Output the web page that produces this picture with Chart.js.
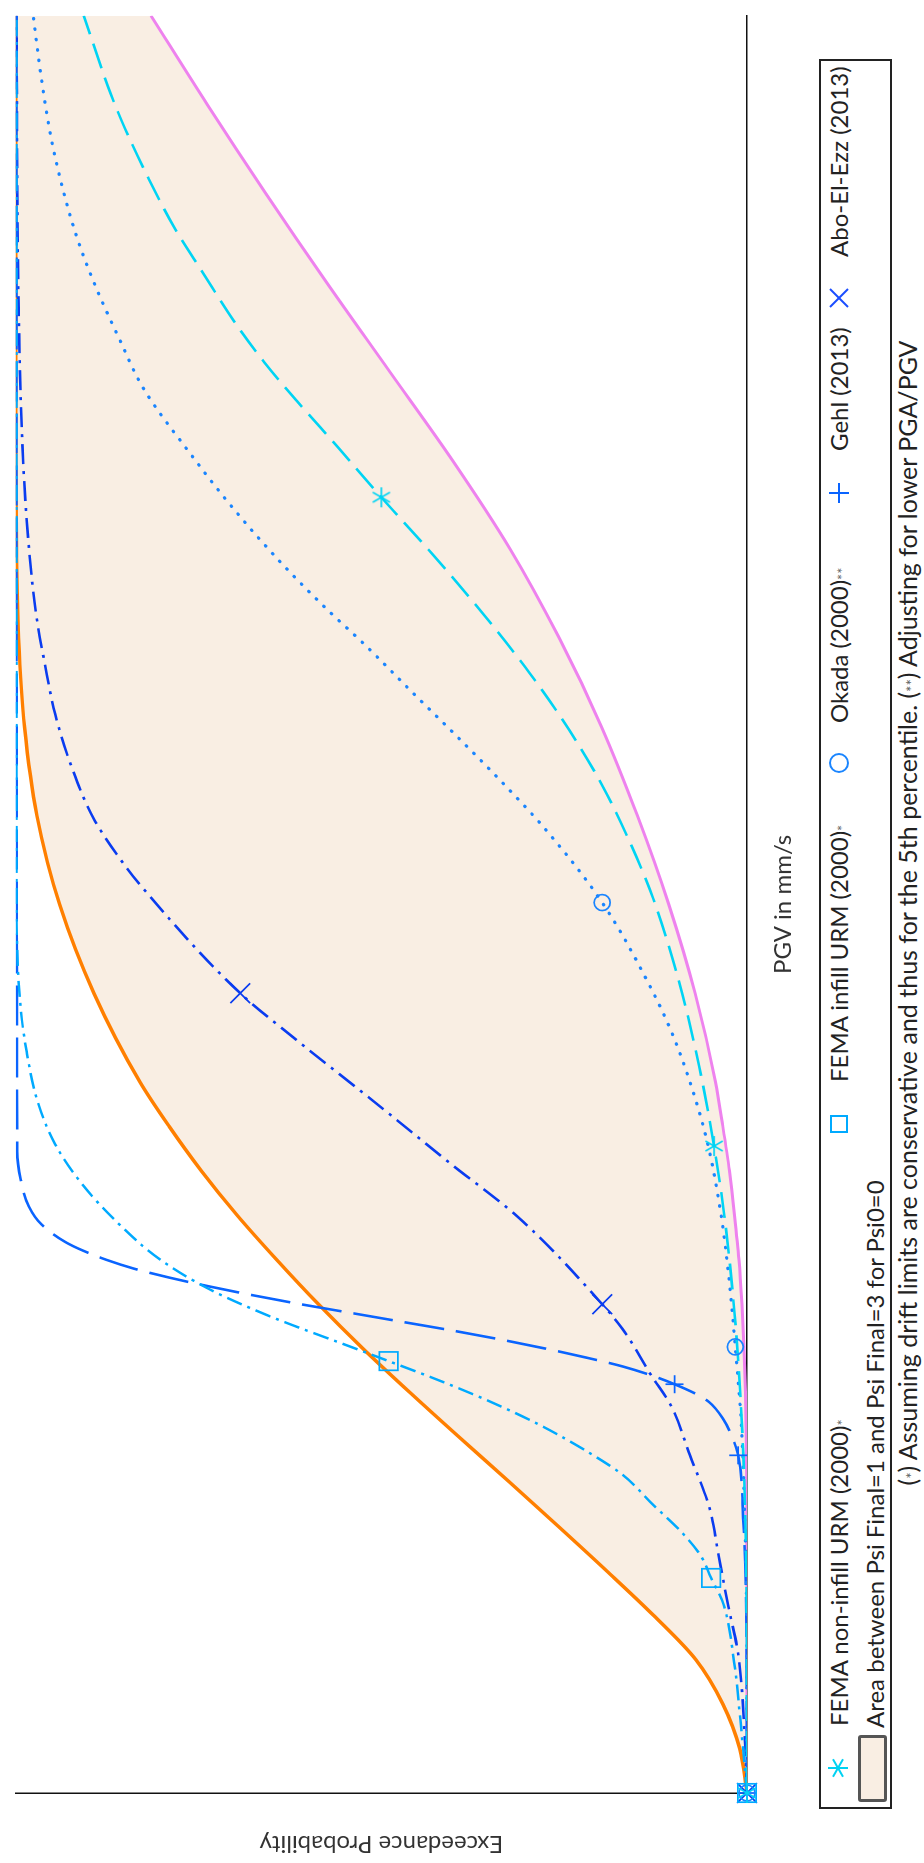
<!DOCTYPE html>
<html>
<head>
<meta charset="UTF-8">
<title>Exceedance Probability vs PGV</title>
<script src="https://cdn.jsdelivr.net/npm/chart.js"></script>
<style>
    html, body {
        margin: 0;
        padding: 0;
        background: #fff;
        overflow: hidden;
    }
    body {
        width: 924px;
        height: 1863px;
        position: relative;
        font-family: Lato, "Open Sans", sans-serif;
        color: #222;
    }
    /* the figure is laid out landscape and turned a quarter to the left */
    #figure {
        position: absolute;
        left: 0;
        top: 0;
        width: 1863px;
        height: 924px;
        transform-origin: 0 0;
        transform: translateY(1863px) rotate(-90deg);
    }
    #plot {
        position: absolute;
        left: 0;
        top: 0;
        width: 1863px;
        height: 800px;
    }
    .legend {
        position: absolute;
        left: 54px;
        top: 819px;
        width: 1746px;
        height: 69px;
        border: 2px solid #222;
    }
    .mk {
        position: absolute;
        width: 24px;
        height: 24px;
    }
    .txt {
        position: absolute;
        height: 24px;
        line-height: 24px;
        font-size: 24px;
        white-space: nowrap;
    }
    .ast {
        font-size: 0.6em;
        color: #666;
    }
    .patch {
        position: absolute;
        left: 5px;
        top: 37px;
        width: 61px;
        height: 23px;
        background: #f9eee3;
        border: 3px solid #555;
        border-radius: 3px;
    }
    .note {
        position: absolute;
        left: 37px;
        right: 0;
        top: 894px;
        text-align: center;
        font-size: 25px;
        line-height: 26px;
        white-space: nowrap;
    }
</style>
</head>
<body>
<div id="figure">
    <div id="plot"><canvas id="fragChart"></canvas></div>

    <div class="legend">
        <!-- row 1 -->
        <svg class="mk" style="left:27px; top:5px" viewBox="-12 -12 24 24">
            <g stroke="#00d2f2" stroke-width="2">
                <line x1="0" y1="-10" x2="0" y2="10"/>
                <line x1="-8.7" y1="-5" x2="8.7" y2="5"/>
                <line x1="-8.7" y1="5" x2="8.7" y2="-5"/>
            </g>
        </svg>
        <span class="txt" style="left:81px; top:6px">FEMA non-infill URM (2000)<span class="ast">*</span></span>

        <svg class="mk" style="left:671px; top:6px" viewBox="-12 -12 24 24">
            <rect x="-8" y="-8" width="16" height="16" fill="none" stroke="#00aaff" stroke-width="2"/>
        </svg>
        <span class="txt" style="left:725px; top:6px">FEMA infill URM (2000)<span class="ast">*</span></span>

        <svg class="mk" style="left:1032px; top:6px" viewBox="-12 -12 24 24">
            <circle cx="0" cy="0" r="9" fill="none" stroke="#1a85ff" stroke-width="2"/>
        </svg>
        <span class="txt" style="left:1084px; top:6px">Okada (2000)<span class="ast">**</span></span>

        <svg class="mk" style="left:1302px; top:6px" viewBox="-12 -12 24 24">
            <g stroke="#0a64ff" stroke-width="2">
                <line x1="0" y1="-10" x2="0" y2="10"/>
                <line x1="-10" y1="0" x2="10" y2="0"/>
            </g>
        </svg>
        <span class="txt" style="left:1356px; top:6px">Gehl (2013)</span>

        <svg class="mk" style="left:1497px; top:6px" viewBox="-12 -12 24 24">
            <g stroke="#1a4dff" stroke-width="2">
                <line x1="-9" y1="-9" x2="9" y2="9"/>
                <line x1="-9" y1="9" x2="9" y2="-9"/>
            </g>
        </svg>
        <span class="txt" style="left:1550px; top:6px">Abo-El-Ezz (2013)</span>

        <!-- row 2 -->
        <div class="patch"></div>
        <span class="txt" style="left:79px; top:42px">Area between Psi Final=1 and Psi Final=3 for Psi0=0</span>
    </div>

    <div class="note">(<span class="ast">*</span>) Assuming drift limits are conservative and thus for the 5th percentile. (<span class="ast">**</span>) Adjusting for lower PGA/PGV</div>
</div>

<script>
    // PGV in mm/s (the original has no ticks, so the axis runs 0..1000) against exceedance probability

    // edges of the shaded band, read on one PGV grid
    const bandPgv = [0, 25, 50, 75, 100, 125, 150, 175, 200, 225, 250, 275, 300, 325, 350, 375, 400, 450, 500, 550, 600, 650, 700, 750, 800, 850, 900, 950, 1000];
    const psiFinal1 = [0, 0.010, 0.033, 0.070, 0.128, 0.192, 0.258, 0.325, 0.393, 0.460, 0.525, 0.586, 0.643, 0.697, 0.746, 0.790, 0.830, 0.893, 0.940, 0.971, 0.988, 0.996, 0.999, 1, 1, 1, 1, 1, 1];
    const psiFinal3 = [0, 0, 0, 0, 0, 0.0001, 0.0003, 0.0005, 0.001, 0.002, 0.004, 0.007, 0.011, 0.017, 0.024, 0.033, 0.043, 0.071, 0.107, 0.150, 0.199, 0.257, 0.324, 0.403, 0.489, 0.575, 0.658, 0.738, 0.815];

    // FEMA non-infill URM (2000)
    const femaNonPgv = [0, 100, 150, 190, 230, 270, 325, 364, 408, 455, 503, 533, 567, 598, 630, 663, 697, 729, 757, 783, 805, 826, 856, 880, 909, 936, 956, 1000];
    const femaNonProb = [0, 0.0005, 0.002, 0.005, 0.010, 0.017, 0.031, 0.045, 0.065, 0.092, 0.128, 0.158, 0.198, 0.243, 0.297, 0.360, 0.430, 0.500, 0.559, 0.615, 0.660, 0.698, 0.745, 0.782, 0.819, 0.850, 0.870, 0.907];
    const femaNonMarkPgv = [0, 364, 729];
    const femaNonMarkProb = [0, 0.045, 0.500];

    // FEMA infill URM (2000)
    const femaInPgv = [0, 41, 78, 106, 121, 134, 147, 162, 179, 190, 207, 220, 231, 243, 252, 263, 269, 283, 300, 321, 343, 365, 389, 417, 445, 511, 1000];
    const femaInProb = [0, 0.009, 0.019, 0.032, 0.049, 0.064, 0.090, 0.128, 0.170, 0.210, 0.283, 0.350, 0.414, 0.490, 0.548, 0.620, 0.657, 0.733, 0.802, 0.861, 0.910, 0.946, 0.970, 0.985, 0.994, 0.999, 0.999];
    const femaInMarkPgv = [0, 121, 243];
    const femaInMarkProb = [0, 0.049, 0.490];

    // Okada (2000)
    const okadaPgv = [0, 100, 153, 209, 251, 287, 324, 364, 395, 427, 455, 501, 540, 567, 593, 619, 645, 669, 697, 725, 754, 790, 817, 845, 869, 891, 928, 965, 1000];
    const okadaProb = [0, 0.0005, 0.003, 0.008, 0.016, 0.024, 0.035, 0.053, 0.074, 0.102, 0.134, 0.198, 0.271, 0.331, 0.393, 0.457, 0.520, 0.582, 0.648, 0.707, 0.762, 0.825, 0.857, 0.888, 0.911, 0.928, 0.950, 0.965, 0.976];
    const okadaMarkPgv = [0, 251, 501];
    const okadaMarkProb = [0, 0.016, 0.198];

    // Gehl (2013)
    const gehlPgv = [0, 100, 153, 190, 200, 210, 220, 225, 230, 235, 240, 245, 250, 255, 260, 265, 270, 275, 280, 285, 290, 295, 300, 305, 310, 320, 330, 345, 361, 1000];
    const gehlProb = [0, 0.001, 0.005, 0.012, 0.020, 0.032, 0.052, 0.072, 0.099, 0.131, 0.170, 0.220, 0.275, 0.335, 0.400, 0.470, 0.540, 0.610, 0.675, 0.735, 0.790, 0.838, 0.876, 0.907, 0.932, 0.965, 0.982, 0.993, 0.998, 0.999];
    const gehlMarkPgv = [0, 190, 230];
    const gehlMarkProb = [0, 0.012, 0.099];

    // Abo-El-Ezz (2013)
    const aboPgv = [0, 31, 78, 106, 134, 160, 190, 218, 235, 261, 275, 324, 354, 389, 425, 450, 511, 522, 548, 579, 607, 635, 663, 701, 751, 835, 1000];
    const aboProb = [0, 0.003, 0.012, 0.026, 0.039, 0.051, 0.078, 0.104, 0.131, 0.170, 0.198, 0.313, 0.405, 0.510, 0.620, 0.693, 0.830, 0.851, 0.893, 0.925, 0.946, 0.960, 0.972, 0.982, 0.990, 0.996, 0.999];
    const aboMarkPgv = [0, 275, 450];
    const aboMarkProb = [0, 0.198, 0.693];

    const pts = (xs, ys) => xs.map((x, i) => ({x: x, y: ys[i]}));

    // six-armed asterisk used as a point style
    function asterisk(color, r) {
        const c = document.createElement('canvas');
        const s = Math.ceil(r * 2 + 4);
        c.width = s;
        c.height = s;
        const g = c.getContext('2d');
        g.strokeStyle = color;
        g.lineWidth = 1.7;
        g.translate(s / 2, s / 2);
        for (let k = 0; k < 3; k++) {
            const a = k * Math.PI / 3;
            g.beginPath();
            g.moveTo(-r * Math.cos(a), -r * Math.sin(a));
            g.lineTo(r * Math.cos(a), r * Math.sin(a));
            g.stroke();
        }
        return c;
    }

    function curve(xs, ys, color, dash, width) {
        return {
            data: pts(xs, ys),
            borderColor: color,
            borderWidth: width,
            borderDash: dash,
            borderCapStyle: dash.length === 2 && dash[0] < 1 ? 'round' : 'butt',
            pointRadius: 0,
            fill: false,
            cubicInterpolationMode: 'monotone'
        };
    }

    function marks(xs, ys, color, style, radius) {
        return {
            data: pts(xs, ys),
            showLine: false,
            pointStyle: style,
            pointRadius: radius,
            pointBorderColor: color,
            pointBackgroundColor: 'rgba(0,0,0,0)',
            pointBorderWidth: 1.7,
            clip: false
        };
    }

    const cFemaNon = '#00d4f4';
    const cFemaIn = '#00aaff';
    const cOkada = '#1a85ff';
    const cGehl = '#0a64ff';
    const cAbo = '#0a3cf0';

    const bandLow = curve(bandPgv, psiFinal1, '#ff7f00', [], 3.5);
    bandLow.fill = '+1';
    bandLow.backgroundColor = '#f9eee3';

    new Chart(document.getElementById('fragChart'), {
        type: 'line',
        data: {
            datasets: [
                marks(femaNonMarkPgv, femaNonMarkProb, cFemaNon, asterisk(cFemaNon, 10), 10),
                marks(femaInMarkPgv, femaInMarkProb, cFemaIn, 'rect', 13),
                marks(okadaMarkPgv, okadaMarkProb, cOkada, 'circle', 8),
                marks(gehlMarkPgv, gehlMarkProb, cGehl, 'cross', 9),
                marks(aboMarkPgv, aboMarkProb, cAbo, 'crossRot', 14),
                curve(femaNonPgv, femaNonProb, cFemaNon, [26, 10], 2.6),
                curve(femaInPgv, femaInProb, cFemaIn, [16, 6, 3, 6], 2.5),
                curve(okadaPgv, okadaProb, cOkada, [0.5, 10], 3.2),
                curve(gehlPgv, gehlProb, cGehl, [40, 12], 2.6),
                curve(aboPgv, aboProb, cAbo, [20, 7, 3, 7], 2.6),
                bandLow,
                curve(bandPgv, psiFinal3, '#ee82ee', [], 3)
            ]
        },
        options: {
            responsive: true,
            maintainAspectRatio: false,
            animation: false,
            devicePixelRatio: 1,
            events: [],
            layout: {
                padding: {top: 5, right: 5, bottom: 0, left: 0}
            },
            plugins: {
                legend: {display: false},
                tooltip: {enabled: false},
                filler: {drawTime: 'beforeDatasetsDraw'}
            },
            scales: {
                x: {
                    type: 'linear',
                    min: 0,
                    max: 1000,
                    grid: {display: false},
                    border: {display: true, color: '#111', width: 1.5},
                    ticks: {display: false},
                    title: {
                        display: true,
                        text: 'PGV in mm/s',
                        color: '#333',
                        font: {family: 'Lato', size: 24},
                        padding: {top: 0, bottom: 2}
                    },
                    afterFit: (s) => { s.height = 53; }
                },
                y: {
                    type: 'linear',
                    min: 0,
                    max: 1,
                    grid: {display: false},
                    border: {display: true, color: '#111', width: 1.5},
                    ticks: {display: false},
                    title: {
                        display: true,
                        text: 'Exceedance Probability',
                        color: '#333',
                        font: {family: 'Lato', size: 24},
                        padding: {top: 5, bottom: 0}
                    },
                    afterFit: (s) => { s.width = 70; }
                }
            }
        }
    });
</script>
</body>
</html>
